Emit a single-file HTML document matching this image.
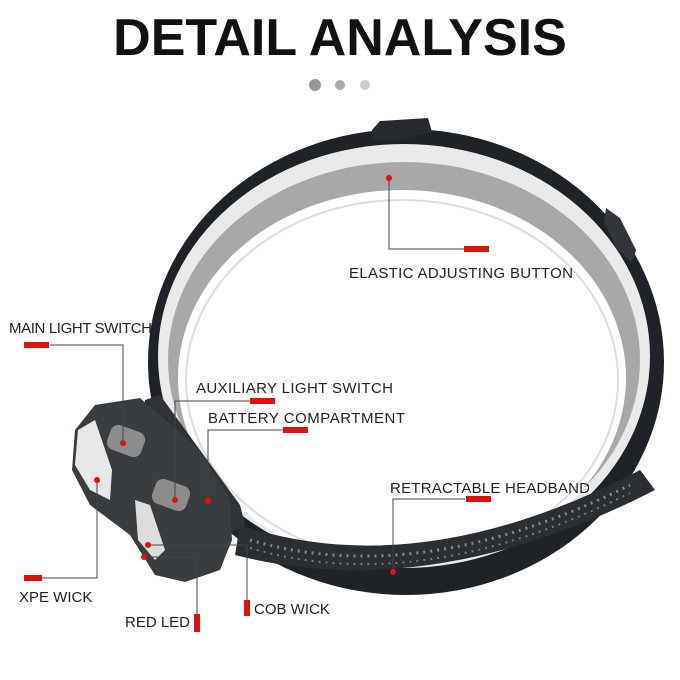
<!DOCTYPE html>
<html><head><style>
body{margin:0;background:#fff;width:680px;height:680px;overflow:hidden}
svg{display:block}
text{font-family:"Liberation Sans",sans-serif;fill:#222}
</style></head><body>
<svg width="680" height="680" viewBox="0 0 680 680">
<text x="340" y="55" text-anchor="middle" font-size="52" font-weight="bold" style="fill:#111">DETAIL ANALYSIS</text>
<circle cx="315" cy="85" r="6" fill="#999"/><circle cx="340" cy="85" r="5" fill="#aaa"/><circle cx="365" cy="85" r="5" fill="#ccc"/>
<!-- headband -->
<ellipse cx="406" cy="362" rx="258" ry="233" fill="#1f2226"/>
<ellipse cx="404" cy="356" rx="246" ry="212" fill="#eaeaea"/>
<ellipse cx="404" cy="360" rx="236" ry="198" fill="#a8a8a8"/>
<ellipse cx="402" cy="378" rx="224" ry="188" fill="#fff"/>
<ellipse cx="402" cy="380" rx="216" ry="180" fill="#fff" stroke="#ddd" stroke-width="2"/>
<!-- bottom strap texture -->
<path d="M240 525 Q420 585 640 470 L655 490 Q430 605 235 555Z" fill="#2a2d31"/>
<path d="M250 540 Q420 590 630 485" stroke="#888" stroke-width="3" stroke-dasharray="2 5" fill="none"/>
<path d="M250 548 Q420 598 630 493" stroke="#777" stroke-width="2" stroke-dasharray="2 5" fill="none"/>
<!-- buckle -->
<path d="M372 130 L380 121 L428 118 L432 132 L400 140 L372 140Z" fill="#26292d"/>
<path d="M606 208 L620 218 L636 250 L632 262 L618 250 L604 222Z" fill="#33363a"/>
<!-- head unit -->
<path d="M145 400 L160 395 L240 505 L245 525 L205 548 L175 545 L140 455Z" fill="#303336"/>
<path d="M95 405 L140 398 L200 450 L230 500 L232 540 L220 570 L185 582 L155 575 L130 535 L90 505 L72 470 L75 430Z" fill="#3a3d40"/>
<path d="M78 430 L95 420 L112 470 L110 500 L90 490 L75 465Z" fill="#e8e8e8"/>
<path d="M135 500 L150 505 L165 550 L155 560 L138 540Z" fill="#ddd"/>
<rect x="108" y="428" width="36" height="26" rx="8" fill="#8c8c8c" transform="rotate(20 126 441)"/>
<rect x="153" y="482" width="36" height="26" rx="8" fill="#8c8c8c" transform="rotate(20 171 495)"/>
<!-- connectors -->
<g stroke="#444" stroke-width="1" fill="none">
<polyline points="50,345 123,345 123,443"/>
<polyline points="250,401 175,401 175,500"/>
<polyline points="285,430 208,430 208,501"/>
<polyline points="40,578 97,578 97,480"/>
<polyline points="197,615 197,557 144,557"/>
<polyline points="247,605 247,545 148,545"/>
<polyline points="465,249 389,249 389,178"/>
<polyline points="465,499 393,499 393,572"/>
</g>
<g fill="#e01010">
<circle cx="123" cy="443" r="3"/><circle cx="175" cy="500" r="3"/><circle cx="208" cy="501" r="3"/>
<circle cx="97" cy="480" r="3"/><circle cx="144" cy="557" r="3"/><circle cx="148" cy="545" r="3"/>
<circle cx="389" cy="178" r="3"/><circle cx="393" cy="572" r="3"/>
<rect x="24" y="342" width="25" height="6"/>
<rect x="250" y="398" width="25" height="6"/>
<rect x="283" y="427" width="25" height="6"/>
<rect x="24" y="575" width="18" height="6"/>
<rect x="194" y="614" width="6" height="18"/>
<rect x="244" y="600" width="6" height="16"/>
<rect x="464" y="246" width="25" height="6"/>
<rect x="466" y="496" width="25" height="6"/>
</g>
<g font-size="15">
<text x="9" y="333" textLength="143">MAIN LIGHT SWITCH</text>
<text x="196" y="393" textLength="197">AUXILIARY LIGHT SWITCH</text>
<text x="208" y="423" textLength="197">BATTERY COMPARTMENT</text>
<text x="349" y="278" textLength="224">ELASTIC ADJUSTING BUTTON</text>
<text x="390" y="493" textLength="200">RETRACTABLE HEADBAND</text>
<text x="19" y="602">XPE WICK</text>
<text x="125" y="627">RED LED</text>
<text x="254" y="614">COB WICK</text>
</g>
</svg>
</body></html>
